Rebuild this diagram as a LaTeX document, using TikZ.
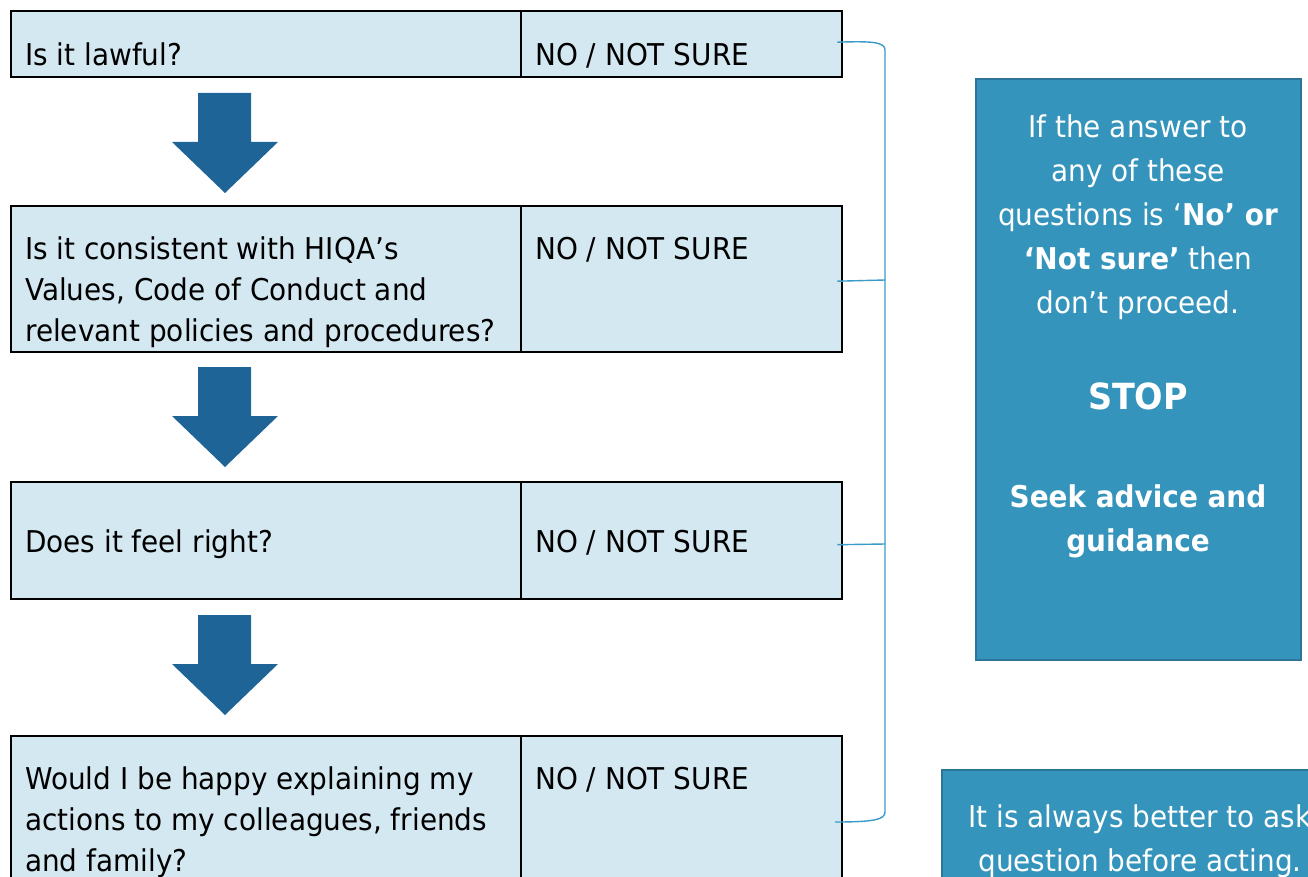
\documentclass[tikz,border=0pt]{standalone}
\usepackage{fontspec}
\setmainfont{DejaVu Sans}[FakeStretch=0.93]
\usepackage{tikz}
\usetikzlibrary{positioning, calc}
\usepackage{xcolor}
\definecolor{cellfill}{HTML}{D4E8F1}
\definecolor{arrowblue}{HTML}{1F6496}
\definecolor{stopfill}{HTML}{3594BC}
\definecolor{stopline}{HTML}{2B7599}
\definecolor{bracketblue}{HTML}{3A9AC8}

\tikzset{
    cell/.style={draw=black, fill=cellfill, line width=2.4pt, anchor=north west, inner sep=0pt},
    qtext/.style={anchor=base west, inner sep=0pt, align=left, font=\fontsize{30}{41}\selectfont},
    stoptext/.style={anchor=base, inner sep=0pt, align=center, text=white, font=\fontsize{30}{44}\selectfont},
    bracket/.style={draw=bracketblue, line width=1.4pt},
}

\begin{document}
\begin{tikzpicture}[x=1pt, y=-1pt]
    \useasboundingbox (0,0) rectangle (1308,877);

    % question rows
    \node[cell, minimum width=510pt, minimum height=66pt] (q1) at (10,10) {};
    \node[cell, minimum width=321pt, minimum height=66pt] (a1) at (520,10) {};
    \node[cell, minimum width=510pt, minimum height=146pt] (q2) at (10,205) {};
    \node[cell, minimum width=321pt, minimum height=146pt] (a2) at (520,205) {};
    \node[cell, minimum width=510pt, minimum height=117pt] (q3) at (10,481) {};
    \node[cell, minimum width=321pt, minimum height=117pt] (a3) at (520,481) {};
    \node[cell, minimum width=510pt, minimum height=170pt] (q4) at (10,735) {};
    \node[cell, minimum width=321pt, minimum height=170pt] (a4) at (520,735) {};

    % base anchor sits on the last line
    \node[qtext] (q1t) at (25,66) {Is it lawful?};
    \node[qtext] (q2t) at (25,341) {Is it consistent with HIQA’s\\Values, Code of Conduct and\\relevant policies and procedures?};
    \node[qtext] (q3t) at (25,552) {Does it feel right?};
    \node[qtext] (q4t) at (25,871) {Would I be happy explaining my\\actions to my colleagues, friends\\and family?};

    \foreach \r/\y in {1/66, 2/259, 3/552, 4/789}
        \node[qtext] (a\r t) at (535,\y) {NO / NOT SURE};

    % block arrows between the rows
    \foreach \top in {93, 367, 615}
        \fill[arrowblue] (198,\top) -- (251,\top) -- (251,\top+49) -- (278,\top+49)
            -- (225,\top+100) -- (172,\top+49) -- (198,\top+49) -- cycle;

    % bracket to the right of the answers
    \coordinate (b1) at ($(a1.east)+(-6,-2)$);
    \coordinate (b2) at ($(a2.east)+(-6,2)$);
    \coordinate (b3) at ($(a3.east)+(-6,4)$);
    \coordinate (b4) at (835,822);
    \draw[bracket] (b1) .. controls (872,41) and (885,42) .. (885,50) -- (885,812)
        .. controls (885,820) and (872,822) .. (b4);
    \draw[bracket] (b2) -- (885,280);
    \draw[bracket] (b3) -- (885,544);

    % stop box
    \node[draw=stopline, fill=stopfill, line width=2.4pt, anchor=north west, inner sep=0pt,
          minimum width=325pt, minimum height=581pt] (stop) at (975,78) {};
    \node[stoptext] (stopq) at (1138,313) {If the answer to\\any of these\\questions is ‘\textbf{No’ or}\\\textbf{‘Not sure’} then\\don’t proceed.};
    \node[stoptext, font=\fontsize{36}{44}\selectfont\bfseries] (stopw) at (1138,409) {STOP};
    \node[stoptext, font=\fontsize{30}{44}\selectfont\bfseries] (stopa) at (1138,551) {Seek advice and\\guidance};

    % ask box
    \node[draw=stopline, fill=stopfill, line width=2.4pt, anchor=north west, inner sep=0pt,
          minimum width=420pt, minimum height=150pt] (ask) at (941,769) {};
    \node[stoptext] (askt) at (1140,871) {It is always better to ask\\question before acting.};
\end{tikzpicture}
\end{document}
